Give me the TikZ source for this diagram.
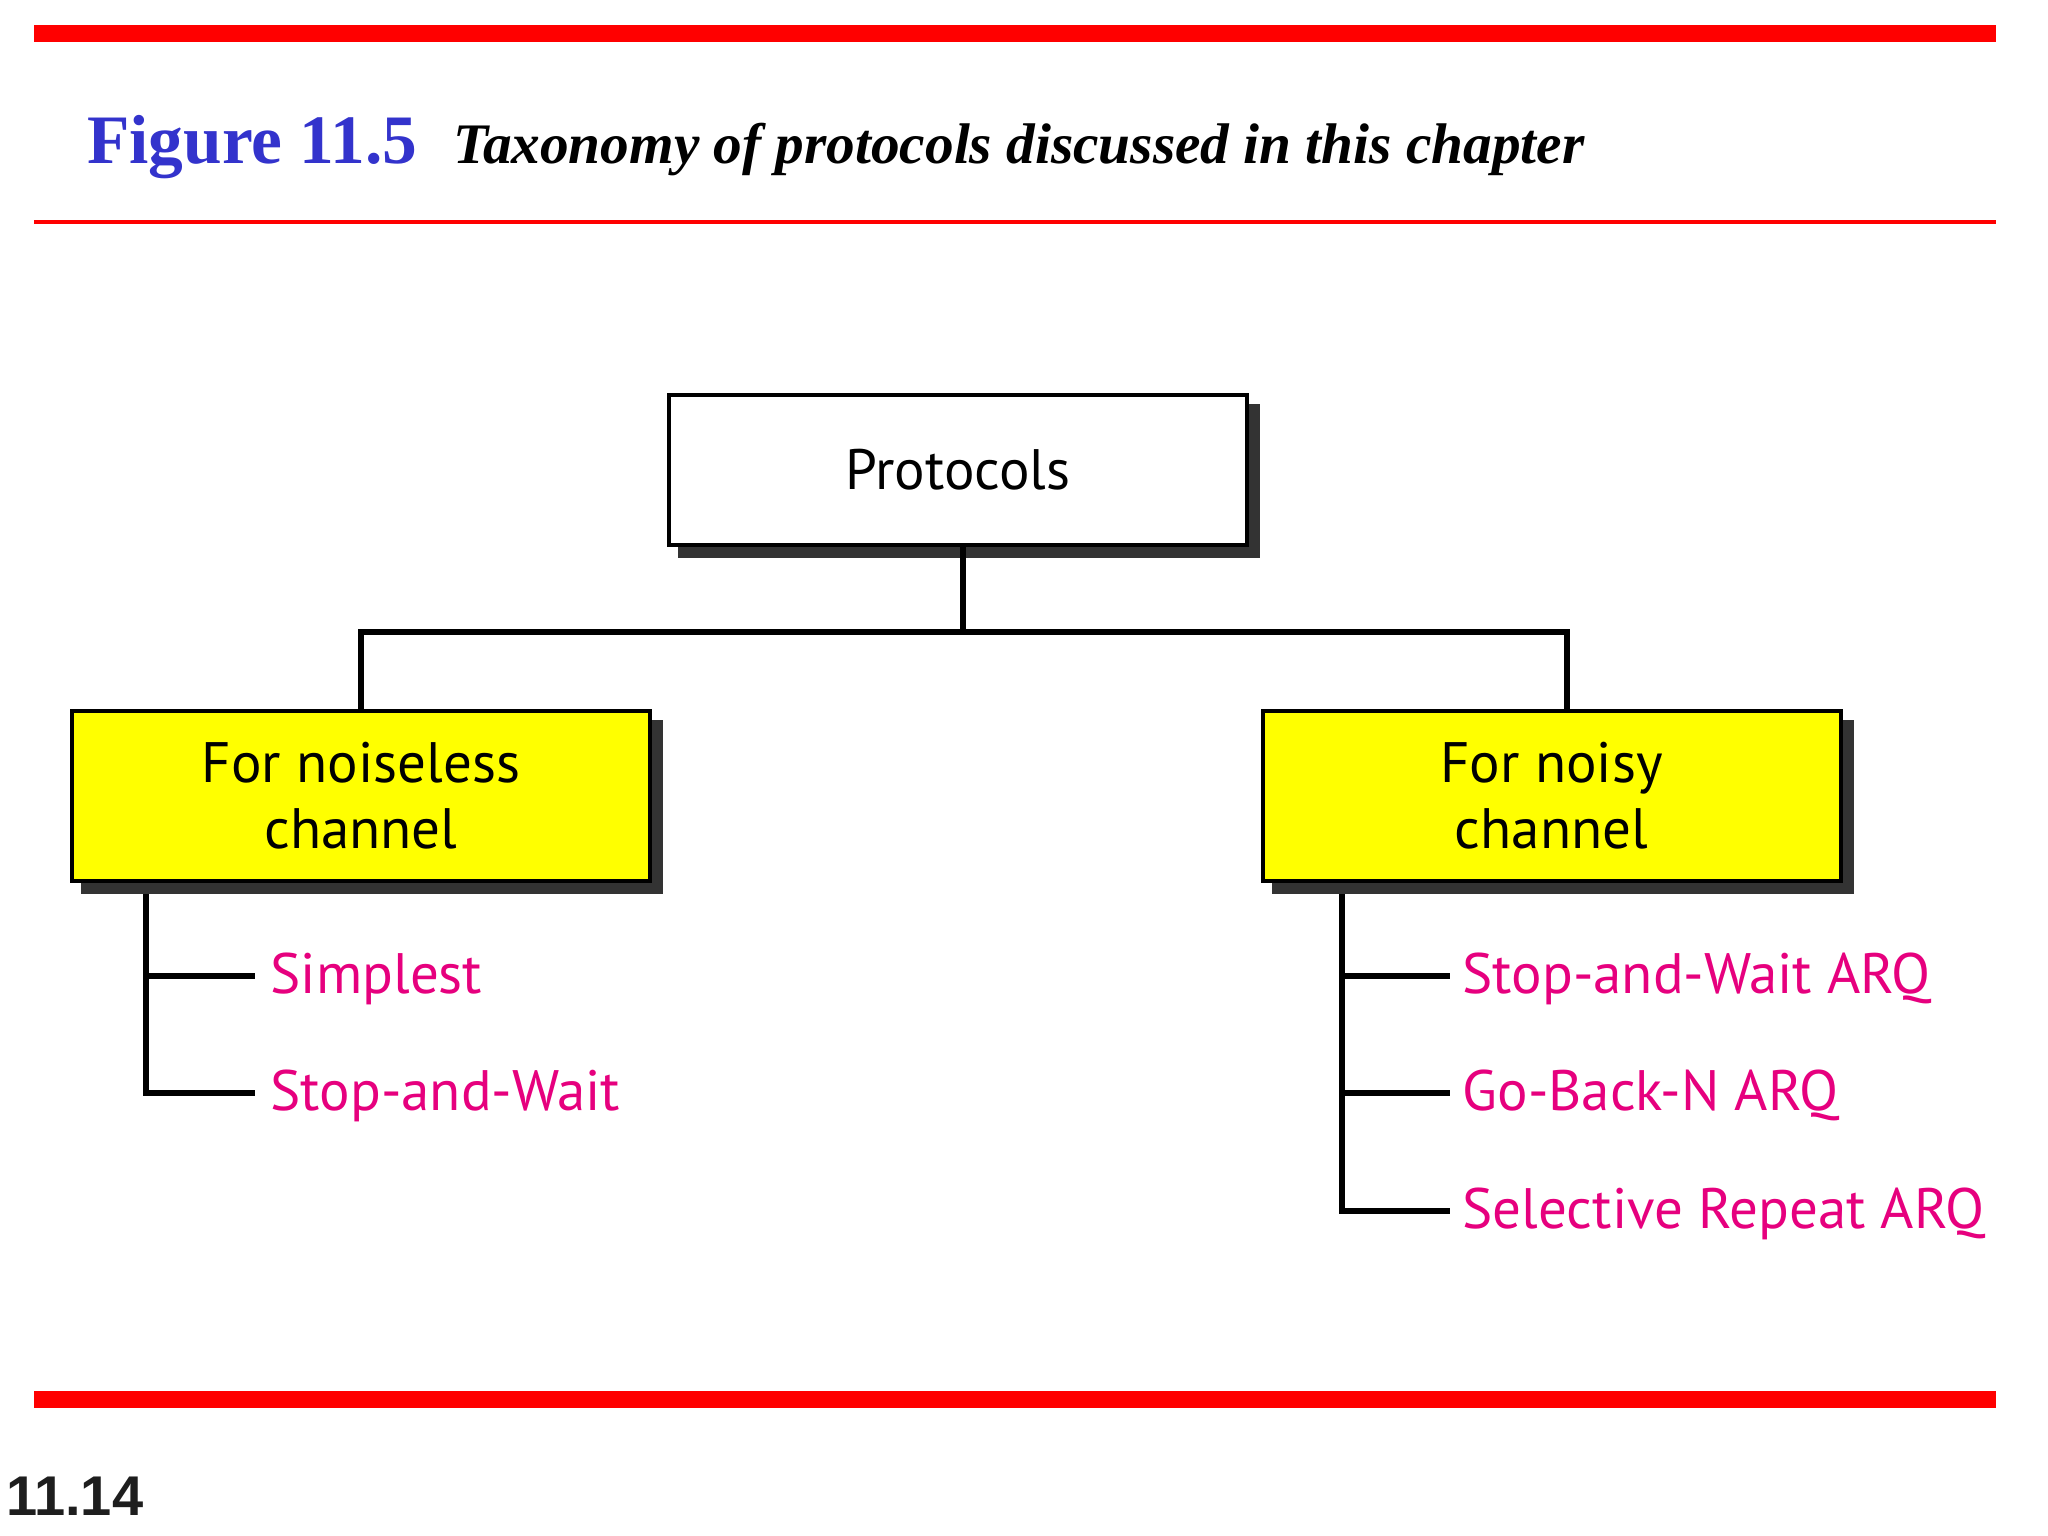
\documentclass[tikz,border=0pt]{standalone}
\usepackage{fontspec}
\usetikzlibrary{backgrounds}
\newfontfamily\myr{PT Sans}
\newfontfamily\tms{Liberation Serif}
\newfontfamily\arl{Liberation Sans}
\definecolor{figblue}{RGB}{51,51,204}
\definecolor{pinkc}{RGB}{230,0,126}
\definecolor{shadowc}{RGB}{51,51,51}
\definecolor{pgray}{RGB}{30,30,30}
\definecolor{boxyellow}{RGB}{255,255,0}
\tikzset{
  redrule/.style={draw=red, line width=#1},
  shadowbox/.style={draw=black, line width=4pt, inner sep=0pt, align=center,
    font=\myr\fontsize{57}{66}\selectfont,
    preaction={draw=shadowc, fill=shadowc, line width=4pt,
      transform canvas={xshift=11pt, yshift=-11pt}}},
  conn/.style={draw=black, line width=6pt},
  leaf/.style={anchor=base west, inner sep=0pt, text=pinkc,
    font=\myr\fontsize{57}{66}\selectfont},
}
\begin{document}
\begin{tikzpicture}[x=1pt, y=-1pt]
\useasboundingbox (0,0) rectangle (2048,1536);
% rules
\draw[redrule=17pt] (34,34) -- (1996,34);
\draw[redrule=4.5pt] (34,222) -- (1996,222);
\draw[redrule=17pt] (34,1399.5) -- (1996,1399.5);
% title
\node[anchor=base west, inner sep=0pt, text=figblue,
  font=\tms\bfseries\fontsize{69.4}{69.4}\selectfont] (fig) at (87,164) {Figure 11.5};
\node[anchor=base west, inner sep=0pt,
  font=\tms\bfseries\itshape\fontsize{57.3}{57.3}\selectfont] (cap) at (453,164)
  {Taxonomy of protocols discussed in this chapter};
% boxes
\node[shadowbox, fill=white, minimum width=578pt, minimum height=150pt] (proto) at (958,470) {Protocols};
\node[shadowbox, fill=boxyellow, minimum width=578pt, minimum height=170pt] (left) at (361,796) {For noiseless\\channel};
\node[shadowbox, fill=boxyellow, minimum width=578pt, minimum height=170pt] (right) at (1551.5,796) {For noisy\\channel};
% leaves
\node[leaf] (l1) at (270.5,993) {Simplest};
\node[leaf] (l2) at (270.5,1110) {Stop-and-Wait};
\node[leaf] (r1) at (1462.5,993) {Stop-and-Wait ARQ};
\node[leaf] (r2) at (1462.5,1110) {Go-Back-N ARQ};
\node[leaf] (r3) at (1462.5,1228) {Selective Repeat ARQ};
% page number
\node[anchor=base west, inner sep=0pt, text=pgray,
  font=\arl\bfseries\fontsize{56}{56}\selectfont] (pg) at (6,1515) {11.14};
% connectors
\coordinate (jt) at (963,632);
\coordinate (jl) at (361,632);
\coordinate (jr) at (1567,632);
\coordinate (lx) at (146,0);
\coordinate (rx) at (1342,0);
\coordinate (lb1) at (255,976);
\coordinate (lb2) at (255,1093);
\coordinate (rb1) at (1450,976);
\coordinate (rb2) at (1450,1093);
\coordinate (rb3) at (1450,1211);
\draw[conn] (proto.south -| jt) -- (jt);
\begin{pgfonlayer}{background}
\draw[conn] (left.north -| jl) -- (jl) -- (jr) -- (right.north -| jr);
\draw[conn] (left.south -| lx) |- (lb2);
\draw[conn] (lx |- lb1) -- (lb1);
\draw[conn] (right.south -| rx) |- (rb3);
\draw[conn] (rx |- rb1) -- (rb1);
\draw[conn] (rx |- rb2) -- (rb2);
\end{pgfonlayer}
\end{tikzpicture}
\end{document}
